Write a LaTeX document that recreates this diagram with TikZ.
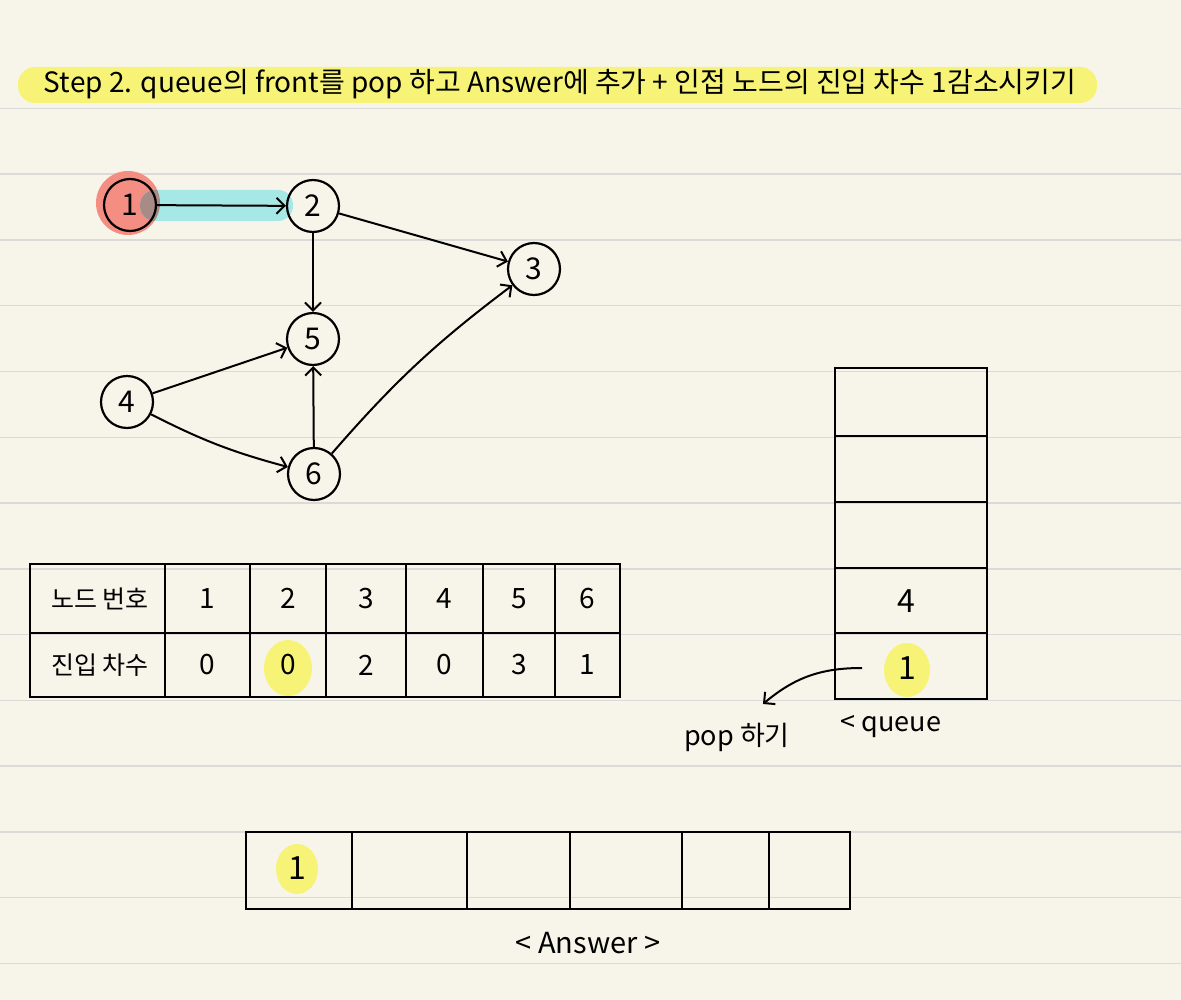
\documentclass[tikz,border=0pt]{standalone}
\usepackage{fontspec}
\setmainfont{Noto Sans CJK KR}
\usepackage{tikz}
\usetikzlibrary{arrows.meta,positioning,calc}
\definecolor{paper}{RGB}{247,245,234}
\definecolor{rulegray}{RGB}{218,218,216}
\definecolor{hlyellow}{RGB}{246,243,118}
\definecolor{hlred}{RGB}{244,142,130}
\definecolor{hlcyan}{RGB}{166,232,230}
\definecolor{hlmix}{RGB}{168,138,134}
\tikzset{
    gnode/.style={
        circle,
        draw=black,
        line width=2.2pt,
        minimum size=52pt,
        inner sep=0pt,
        font=\fontsize{30}{34}\selectfont
    },
    garrow/.style={
        line width=2pt,
        black,
        -{Straight Barb[length=8pt,width=16pt]}
    },
    boxline/.style={line width=2.2pt, black},
    ruleline/.style={line width=1.5pt, rulegray},
    celltext/.style={inner sep=0pt, font=\fontsize{28}{32}\selectfont},
    labeltext/.style={inner sep=0pt, font=\fontsize{27}{32}\selectfont}
}

\begin{document}
\begin{tikzpicture}[x=1pt,y=-1pt]

    % paper
    \fill[paper] (0,0) rectangle (1181,1000);
    \useasboundingbox (0,0) rectangle (1181,1000);
    \foreach \k in {0,...,13}
        \draw[ruleline] (0,{108.5+65.75*\k}) -- (1181,{108.5+65.75*\k});

    % title
    \fill[hlyellow, rounded corners=17pt] (18,67) rectangle (1097,103);
    \node[inner sep=0pt, font=\fontsize{28}{32}\selectfont] (title) at (560,84)
        {Step 2. queue의 front를 pop 하고 Answer에 추가 + 인접 노드의 진입 차수 1감소시키기};

    % graph
    \fill[hlred] (128,203) circle (32);
    \fill[hlcyan, rounded corners=15pt] (140,190) rectangle (293,221);
    \begin{scope}
        \clip (128,203) circle (32);
        \fill[hlmix, rounded corners=15pt] (140,190) rectangle (293,221);
    \end{scope}

    \node[gnode] (n1) at (130,205) {1};
    \node[gnode] (n2) at (313,206) {2};
    \node[gnode] (n3) at (534,269) {3};
    \node[gnode] (n5) at (313,339) {5};
    \node[gnode] (n4) at (127,402) {4};
    \node[gnode] (n6) at (314,474) {6};

    \draw[garrow] (n1) -- (n2);
    \draw[garrow] (n2) -- (n3);
    \draw[garrow] (n2) -- (n5);
    \draw[garrow] (n4) -- (n5);
    \draw[garrow] (n4) to[bend right=6] (n6);
    \draw[garrow] (n6) -- (n5);
    \draw[garrow] (n6) to[bend left=6] (n3);

    % in-degree table
    \fill[hlyellow] (288,668) ellipse [x radius=24, y radius=28];
    \draw[boxline] (30,564) rectangle (620,697);
    \draw[boxline] (30,633) -- (620,633);
    \foreach \x in {165,250,326,406,483,555}
        \draw[boxline] (\x,564) -- (\x,697);

    \node[celltext, font=\fontsize{25}{30}\selectfont] (hd) at (100,598.5) {노드 번호};
    \node[celltext, font=\fontsize{25}{30}\selectfont] (in) at (100,665) {진입 차수};
    \foreach \n/\x/\d in {1/207.5/0,2/288/0,3/366/2,4/444.5/0,5/519/3,6/587.5/1}{
        \node[celltext] (h\n) at (\x,598.5) {\n};
        \node[celltext] (d\n) at (\x,665) {\d};
    }

    % queue
    \fill[hlyellow] (907,670) ellipse [x radius=23, y radius=27];
    \draw[boxline] (835,368) rectangle (987,699);
    \foreach \y in {436,502,568,633}
        \draw[boxline] (835,\y) -- (987,\y);
    \node[celltext, font=\fontsize{32}{36}\selectfont] (q4) at (906,601) {4};
    \node[celltext, font=\fontsize{32}{36}\selectfont] (q1) at (907,668) {1};

    \node[labeltext] (queue) at (891,727) {< queue};
    \node[labeltext] (pop) at (737,737) {pop 하기};
    \coordinate (popstart) at (862,668);
    \coordinate (popend) at (763,704);
    \draw[garrow] (popstart) to[out=180,in=40] (popend);

    % answer
    \fill[hlyellow] (297,869) ellipse [x radius=21, y radius=25];
    \draw[boxline] (246,832) rectangle (850,909);
    \foreach \x in {352,467,570,682,769}
        \draw[boxline] (\x,832) -- (\x,909);
    \node[celltext, font=\fontsize{32}{36}\selectfont] (a1) at (297,868) {1};
    \node[labeltext, font=\fontsize{29}{34}\selectfont] (answer) at (588,943) {< Answer >};

\end{tikzpicture}
\end{document}
